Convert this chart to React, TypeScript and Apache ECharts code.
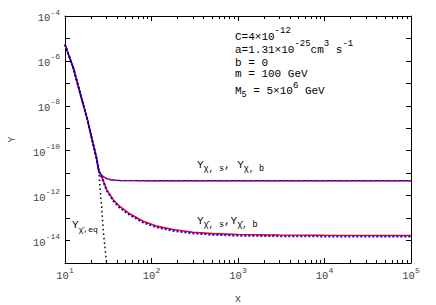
import React, { useEffect, useRef } from "react";
import * as echarts from "echarts";

// Shared early part (all curves coincide with equilibrium)
const xCommon = [10, 11, 12.5, 15, 18, 21, 23, 24.7];
const yCommon = [5.3e-6, 1.89e-6, 4.74e-7, 3.56e-8, 2.78e-9, 2.25e-10, 5.14e-11, 1.2e-11];

// Equilibrium tail (Y_chibar,eq)
const xEqTail = [25.3, 26.5, 27.6, 29.4, 30.3, 31];
const yEqTail = [2.6e-12, 3.3e-13, 3.1e-14, 2.8e-15, 1.0e-15, 3e-16];

// Upper branch (Y_chi,s and Y_chi,b)
const xUpperTail = [25.5, 26.5, 27.5, 29, 31, 34, 38, 45, 60, 100, 1e3, 1e4, 1e5];
const yUpperTail = [1.0e-11, 8.4e-12, 7.2e-12, 6.3e-12, 5.6e-12, 5.1e-12, 4.85e-12, 4.7e-12, 4.62e-12, 4.6e-12, 4.6e-12, 4.6e-12, 4.6e-12];

// Lower branch (Y_chibar,s red / Y_chibar,b blue)
const xLowerTail = [26.5, 30.3, 36.1, 43, 56, 80, 114, 177, 301, 512, 1000, 3000, 1e4, 1e5];
const yLowerS = [7.2e-12, 1.86e-12, 6.6e-13, 3.3e-13, 1.55e-13, 7.2e-14, 4.4e-14, 3.1e-14, 2.35e-14, 2.04e-14, 1.86e-14, 1.76e-14, 1.72e-14, 1.68e-14];
const yLowerB = [6.8e-12, 1.7e-12, 5.9e-13, 2.9e-13, 1.38e-13, 6.4e-14, 3.9e-14, 2.75e-14, 2.1e-14, 1.82e-14, 1.66e-14, 1.57e-14, 1.53e-14, 1.5e-14];

const X_MIN = 10;
const X_MAX = 1e5;
const Y_MIN = 1e-15;
const Y_MAX = 1e-4;

const FONT = "'Liberation Mono', monospace";

const pairs = (xs: number[], ys: number[]) => xs.map((x, i) => [x, ys[i]]);

const labelRich = {
  b: { fontFamily: FONT, fontSize: 10.5, lineHeight: 12, padding: [4, 0, 0, 0], color: "#444" },
  s: { fontFamily: FONT, fontSize: 8, lineHeight: 8, padding: [0, 0, 8, 0], color: "#444" },
};

const textRich = {
  b: { fontFamily: FONT, fontSize: 11, lineHeight: 12, padding: [4, 0, 0, 0], color: "#222" },
  p: { fontFamily: FONT, fontSize: 11, lineHeight: 12, color: "#222" },
  s: { fontFamily: FONT, fontSize: 9, lineHeight: 8, padding: [0, 0, 8, 0], color: "#222" },
  t: { fontFamily: FONT, fontSize: 9, lineHeight: 8, padding: [0, 0, 6, 0], color: "#222" },
  u: { fontFamily: FONT, fontSize: 8.5, lineHeight: 8, padding: [12, 0, 0, 0], color: "#222" },
  v: { fontFamily: FONT, fontSize: 8, lineHeight: 8, padding: [12, 0, 0, 0], color: "#222" },
};

const expOf = (v: number) => Math.round(Math.log10(v));

export default function App() {
  const ref = useRef<HTMLDivElement>(null);
  useEffect(() => {
    if (!ref.current) return;
    const chart = echarts.init(ref.current, undefined, { renderer: "svg" });
    const axisLine = { show: true, lineStyle: { color: "#000", width: 1 } };
    const tick = { show: true, inside: true, length: 5, lineStyle: { color: "#000" } };
    const minor = { show: true, splitNumber: 9, length: 3, lineStyle: { color: "#000" } };
    const grid = { left: 65, right: 25, top: 16, bottom: 42, outerBoundsMode: "none", containLabel: false };
    const line = (name: string, data: number[][], color: string, width: number, type: any, z: number) => ({
      type: "line",
      name,
      data,
      showSymbol: false,
      symbol: "none",
      z,
      lineStyle: { color, width, type },
      silent: true,
    });
    const txt = (x: number, y: number, text: string) => ({
      type: "text",
      x,
      y,
      silent: true,
      style: { text, rich: textRich, verticalAlign: "middle", align: "left" },
    });
    chart.setOption({
      animation: false,
      grid,
      xAxis: [
        {
          type: "log",
          logBase: 10,
          min: X_MIN,
          max: X_MAX,
          interval: 1,
          name: "x",
          nameLocation: "middle",
          nameGap: 30,
          nameTextStyle: { fontFamily: FONT, fontSize: 10.5, color: "#444" },
          axisLine,
          axisTick: tick,
          minorTick: minor,
          splitLine: { show: false },
          axisLabel: {
            margin: 5,
            formatter: (v: number) => `{b|10}{s|${expOf(v)}}`,
            rich: labelRich,
          },
        },
        {
          type: "log",
          logBase: 10,
          position: "top",
          min: X_MIN,
          max: X_MAX,
          interval: 1,
          axisLine,
          axisTick: tick,
          minorTick: minor,
          splitLine: { show: false },
          axisLabel: { show: false },
        },
      ],
      yAxis: [
        {
          type: "log",
          logBase: 10,
          min: Y_MIN,
          max: Y_MAX,
          interval: 1,
          name: "Y",
          nameLocation: "middle",
          nameGap: 48,
          nameRotate: 90,
          nameTextStyle: { fontFamily: FONT, fontSize: 10.5, color: "#444" },
          axisLine,
          axisTick: tick,
          splitLine: { show: false },
          axisLabel: {
            margin: 5,
            formatter: (v: number) => {
              const e = expOf(v);
              return e % 2 === 0 ? `{b|10}{s|${e}}` : "";
            },
            rich: labelRich,
          },
        },
        {
          type: "log",
          logBase: 10,
          position: "right",
          min: Y_MIN,
          max: Y_MAX,
          interval: 1,
          axisLine,
          axisTick: tick,
          splitLine: { show: false },
          axisLabel: { show: false },
        },
      ],
      series: [
        line("Y_chibar_s", [...pairs(xCommon, yCommon), ...pairs(xLowerTail, yLowerS)], "#ff0000", 1.6, "solid", 1),
        line("Y_chi_s", [...pairs(xCommon, yCommon), ...pairs(xUpperTail, yUpperTail)], "#0000ff", 1.3, "solid", 2),
        line("Y_chi_b", [...pairs(xCommon, yCommon), ...pairs(xUpperTail, yUpperTail)], "#ff0000", 1.3, [3, 3], 3),
        line("Y_chibar_b", [...pairs(xCommon, yCommon), ...pairs(xLowerTail, yLowerB)], "#0000ff", 2, [2, 2], 4),
        line("Y_eq", [...pairs(xCommon, yCommon), ...pairs(xEqTail, yEqTail)], "#000000", 1.5, [1.5, 3], 5),
      ],
      graphic: [
        txt(235, 34.7, "{b|C=4×10}{s|-12}"),
        txt(235, 48, "{b|a=1.31×10}{s|-25}{b|cm}{s|3}{b| s}{s|-1}"),
        txt(235, 62.5, "{p|b = 0}"),
        txt(235, 74, "{p|m = 100 GeV}"),
        txt(235, 88.5, "{b|M}{u|5}{b| = 5×10}{t|6}{b| GeV}"),
        txt(197, 163, "{b|Y}{u|χ, s}{b|, Y}{u|χ, b}"),
        txt(197, 219, "{b|Y}{u|χ\u0304, s}{b|,Y}{u|χ\u0304, b}"),
        txt(72, 223, "{b|Y}{v|χ\u0304,eq}"),
      ],
    });
    return () => chart.dispose();
  }, []);
  return <div ref={ref} style={{ position: "absolute", left: 0, top: 0, width: 436, height: 305 }} />;
}
